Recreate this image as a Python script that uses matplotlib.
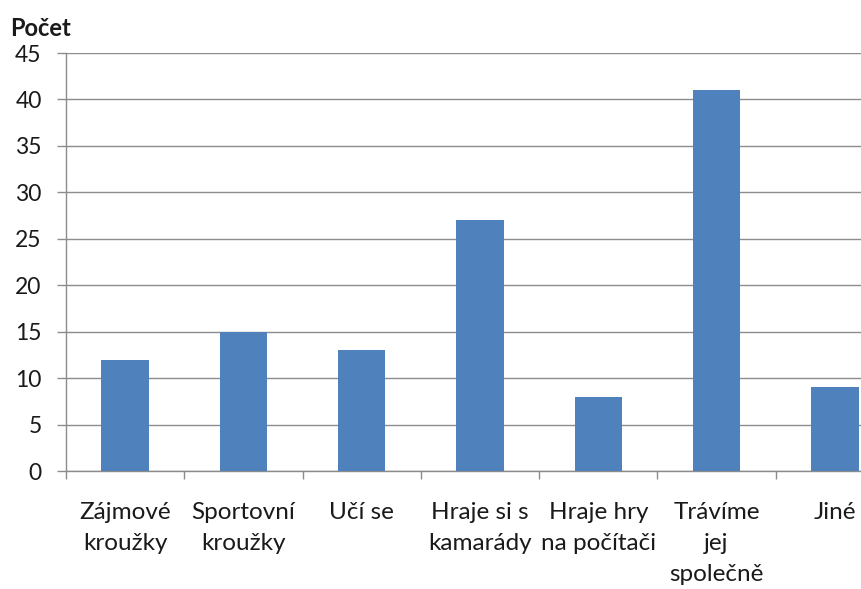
import matplotlib
matplotlib.use("Agg")
import matplotlib.pyplot as plt
import numpy as np

categories = ["Zájmové\nkroužky", "Sportovní\nkroužky", "Učí se", "Hraje si s\nkamarády",
              "Hraje hry\nna počítači", "Trávíme\njej\nspolečně", "Jiné"]
values = [12, 15, 13, 27, 8, 41, 9]
yticks = [0, 5, 10, 15, 20, 25, 30, 35, 40, 45]

plt.rcParams['font.family'] = ['Lato', 'DejaVu Sans']

W, H = 862, 589
fig = plt.figure(figsize=(W / 100, H / 100), dpi=100)
ax = fig.add_axes([66 / W, 118 / H, 828 / W, 418 / H])

x = np.arange(len(categories))
ax.bar(x, values, width=0.4, color="#4F81BD", zorder=3)

ax.set_xlim(-0.5, len(categories) - 0.5)
ax.set_ylim(0, 45)
ax.set_yticks(yticks)
ax.set_yticklabels([str(v) for v in yticks])
ax.yaxis.grid(True, color="#8C8C8C", linewidth=1.0, zorder=0)

ax.set_xticks(np.arange(len(categories) + 1) - 0.5)
ax.set_xticklabels([""] * (len(categories) + 1))
ax.set_xticks(x, minor=True)
ax.set_xticklabels(categories, minor=True, fontsize=17.5, linespacing=1.6,
                   color="#1a1a1a", va="top")
ax.tick_params(axis="x", which="minor", length=0, pad=22)
ax.tick_params(axis="x", which="major", length=6, width=1, color="#8C8C8C", direction="out")
ax.tick_params(axis="y", length=6.5, width=1, color="#8C8C8C", pad=11, labelsize=16.5,
               labelcolor="#1a1a1a")

for s in ["top", "right"]:
    ax.spines[s].set_visible(False)
for s in ["left", "bottom"]:
    ax.spines[s].set_color("#8C8C8C")
    ax.spines[s].set_linewidth(1.0)

fig.text(10 / W, 1 - 28 / H, "Počet", fontsize=17, fontweight="bold", ha="left",
         va="center", color="#1a1a1a")

fig.savefig("out.png", dpi=100)
